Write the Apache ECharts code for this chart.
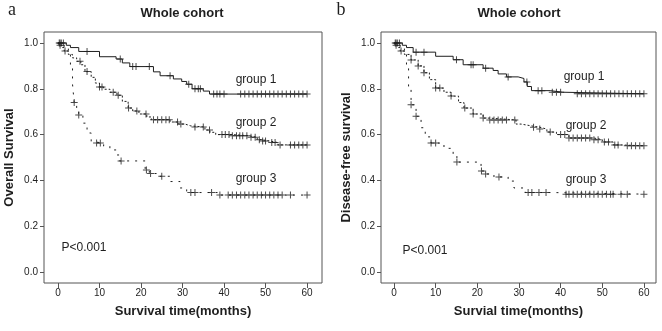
<!DOCTYPE html>
<html>
<head>
<meta charset="utf-8">
<script src="https://cdn.jsdelivr.net/npm/echarts@6/dist/echarts.min.js"></script>
<style>html,body{margin:0;padding:0;background:#fff;}#c{width:662px;height:331px;}</style>
</head>
<body>
<div id="c"></div>
<script>
// ---- Data ----
var xTicks = [0, 10, 20, 30, 40, 50, 60];
var yTicks = [0, 0.2, 0.4, 0.6, 0.8, 1.0];
var groupNames = ['group 1', 'group 2', 'group 3'];

// Panel a: Overall survival — step events [month, survival]
var osGroup1 = [[0,1.0],[2,0.99],[3,0.98],[5,0.963],[10,0.94],[14,0.93],[15.5,0.913],[17.3,0.897],[23,0.874],[24.6,0.857],[27.8,0.843],[29.8,0.832],[31,0.82],[32.3,0.80],[35,0.79],[36.5,0.777],[60,0.777]];
var osGroup2 = [[0,1.0],[0.3,0.99],[1,0.98],[1.5,0.965],[2.5,0.95],[3.5,0.935],[4.5,0.92],[5.5,0.905],[6.5,0.875],[8,0.85],[9,0.825],[10,0.808],[11,0.798],[12.5,0.785],[14.2,0.772],[15.5,0.745],[16.9,0.716],[18,0.703],[19.5,0.69],[21.4,0.677],[22.5,0.665],[27,0.655],[29,0.646],[30.6,0.638],[32,0.633],[35.4,0.62],[36.6,0.61],[38,0.6],[42,0.595],[46,0.588],[48,0.578],[49,0.572],[51,0.565],[53,0.555],[60,0.555]];
var osGroup3 = [[0,1.0],[1.5,0.985],[2.5,0.96],[3,0.89],[3.5,0.82],[3.9,0.74],[4.5,0.7],[5,0.686],[6,0.65],[7,0.607],[8,0.57],[8.4,0.563],[11,0.55],[12.5,0.533],[14.2,0.511],[14.8,0.485],[21,0.445],[22,0.43],[24,0.418],[27,0.395],[29.4,0.367],[31,0.347],[38.5,0.336],[60,0.336]];
// censoring times (months)
var osCens1 = [0.3,0.8,1.3,7,15,18,18.8,22,27,31.5,33,33.8,34.3,37.5,38.3,39,40,44,45,46,47,48,49,50,51,52,53,54,55,56,57,58,59,60];
var osCens2 = [0.5,1.7,5.3,7,10,10.6,13.3,14.5,17,19,21.2,23,24,25,26,26.8,28.8,29.6,33,35,36.5,39.5,40.3,41.2,42,43,43.8,44.5,45.5,46.5,47.5,48.5,49.3,50,51.5,52.3,53.5,56,57,58,59,60];
var osCens3 = [0.5,3.9,5,9.3,10.2,15.2,21.3,22.3,25,32,33,37,39,41,42,43,44,45,46,47,48,49,50,51,52,53,54,56,60];

// Panel b: Disease-free survival
var dfsGroup1 = [[0,1.0],[2,0.99],[3,0.98],[4.6,0.96],[10,0.942],[14.2,0.927],[16.6,0.905],[21.4,0.89],[23.8,0.88],[25,0.865],[27,0.852],[29.8,0.845],[31.2,0.83],[32,0.81],[33,0.792],[37.5,0.785],[40.5,0.778],[60,0.778]];
var dfsGroup2 = [[0,1.0],[0.3,0.99],[1,0.98],[1.5,0.965],[2.5,0.95],[4.1,0.926],[5.8,0.9],[7.2,0.87],[8.5,0.84],[10,0.803],[12,0.785],[13.7,0.768],[15.5,0.74],[16.8,0.716],[19,0.69],[21.4,0.672],[23,0.664],[29.3,0.646],[30.5,0.638],[33,0.632],[35,0.624],[36.7,0.611],[39,0.6],[42,0.585],[48,0.578],[50,0.568],[52.6,0.555],[54.3,0.551],[60,0.551]];
var dfsGroup3 = [[0,1.0],[1.5,0.985],[2.5,0.96],[3,0.89],[3.5,0.81],[4.1,0.73],[5.3,0.68],[6.5,0.63],[7.5,0.59],[8.9,0.563],[12,0.54],[14.2,0.511],[15.1,0.48],[20.9,0.441],[22,0.428],[24,0.415],[27.4,0.397],[28.8,0.367],[31.5,0.347],[38,0.34],[60,0.34]];
var dfsCens1 = [0.3,0.8,1.3,5.3,7.2,15,18.5,19,22,27.4,31.9,34.6,35.5,38,39,40,44,45,46,47,48,49,50,51,52,53,54,55,56,57,58,59,60];
var dfsCens2 = [0.5,1.7,4.1,5.8,7.2,10,11,13.7,17,19,21.4,23,24,25,26,27,29,33.5,35,37.5,40,41,42,43,44,45,46,47,48,49,50.5,51.5,53,53.8,56,57,58,59,60];
var dfsCens3 = [0.5,4.1,5.3,8.9,10,15.1,21,22,25.2,32.2,33.1,34.8,36.5,41.3,42,43,44,45,46,47,48,49,50,51,52,52.6,54.5,56,60];

// ---- helpers ----
function survAt(steps, t) {
  var s = steps[0][1];
  for (var i = 0; i < steps.length; i++) { if (steps[i][0] <= t) s = steps[i][1]; }
  return s;
}
function censPts(steps, times) { return times.map(function (t) { return [t, survAt(steps, t)]; }); }

var INK = '#1e1e1e';
var FONT = 'Liberation Sans, Arial, sans-serif';
var CROSS = 'path://M3,0H4V7H3ZM0,3H7V4H0Z';
var lineTypes = ['solid', [2, 2], [2, 6]];

function xAx(idx, min, max, name) {
  return {
    type: 'value', gridIndex: idx, min: min, max: max, position: 'bottom',
    axisLine: { show: false, onZero: false },
    axisTick: { show: true, length: 5, customValues: xTicks, lineStyle: { color: '#555' } },
    axisLabel: { customValues: xTicks, fontSize: 10, color: INK, margin: 5, fontFamily: FONT },
    splitLine: { show: false },
    name: name, nameLocation: 'middle', nameGap: 22,
    nameTextStyle: { fontSize: 13, fontWeight: 'bold', color: INK, fontFamily: FONT }
  };
}
function yAx(idx, name) {
  return {
    type: 'value', gridIndex: idx, min: -0.048, max: 1.048, position: 'left',
    axisLine: { show: false, onZero: false },
    axisTick: { show: true, length: 4, customValues: yTicks, lineStyle: { color: '#555' } },
    axisLabel: { customValues: yTicks, fontSize: 10, color: INK, margin: 6, fontFamily: FONT,
      formatter: function (v) { return v.toFixed(1); } },
    splitLine: { show: false },
    name: name, nameLocation: 'middle', nameGap: 28,
    nameTextStyle: { fontSize: 13, fontWeight: 'bold', color: INK, fontFamily: FONT }
  };
}
function panelSeries(idx, groups, cens) {
  var out = [];
  groups.forEach(function (g, i) {
    out.push({
      type: 'line', name: groupNames[i], xAxisIndex: idx, yAxisIndex: idx, data: g, step: 'end',
      showSymbol: false, silent: true, animation: false,
      lineStyle: { color: INK, width: 1, type: lineTypes[i] }
    });
    out.push({
      type: 'scatter', xAxisIndex: idx, yAxisIndex: idx, data: censPts(g, cens[i]),
      symbol: CROSS, symbolSize: 7, silent: true, animation: false,
      itemStyle: { color: INK }
    });
  });
  return out;
}
function txt(x, y, s, size, bold, family, align) {
  return { type: 'text', x: x, y: y, silent: true,
    style: { text: s, fontSize: size, fontWeight: bold ? 'bold' : 'normal', fontFamily: family || FONT,
      fill: INK, align: align || 'center', verticalAlign: 'middle' } };
}

var chart = echarts.init(document.getElementById('c'), null, { renderer: 'canvas' });
chart.setOption({
  backgroundColor: '#fff',
  animation: false,
  grid: [
    { left: 44, top: 32, width: 278, height: 251, show: true, borderColor: '#555', borderWidth: 1, backgroundColor: 'transparent' },
    { left: 381, top: 32, width: 275, height: 251, show: true, borderColor: '#555', borderWidth: 1, backgroundColor: 'transparent' }
  ],
  xAxis: [xAx(0, -3.37, 63.6, 'Survival time(months)'), xAx(1, -3.12, 62.9, 'Survial time(months)')],
  yAxis: [yAx(0, 'Overall Survival'), yAx(1, 'Disease-free survival')],
  series: panelSeries(0, [osGroup1, osGroup2, osGroup3], [osCens1, osCens2, osCens3])
    .concat(panelSeries(1, [dfsGroup1, dfsGroup2, dfsGroup3], [dfsCens1, dfsCens2, dfsCens3])),
  graphic: [
    txt(12, 10, 'a', 18, false, 'Liberation Serif, Times New Roman, serif'),
    txt(341, 10, 'b', 18, false, 'Liberation Serif, Times New Roman, serif'),
    txt(182, 13, 'Whole cohort', 13, true),
    txt(519, 13, 'Whole cohort', 13, true),
    txt(256, 80, groupNames[0], 12), txt(256, 123, groupNames[1], 12), txt(256, 179, groupNames[2], 12),
    txt(584, 77, groupNames[0], 12), txt(586, 126, groupNames[1], 12), txt(586, 180, groupNames[2], 12),
    txt(84, 248, 'P<0.001', 12), txt(425, 251, 'P<0.001', 12)
  ]
});
</script>
</body>
</html>
